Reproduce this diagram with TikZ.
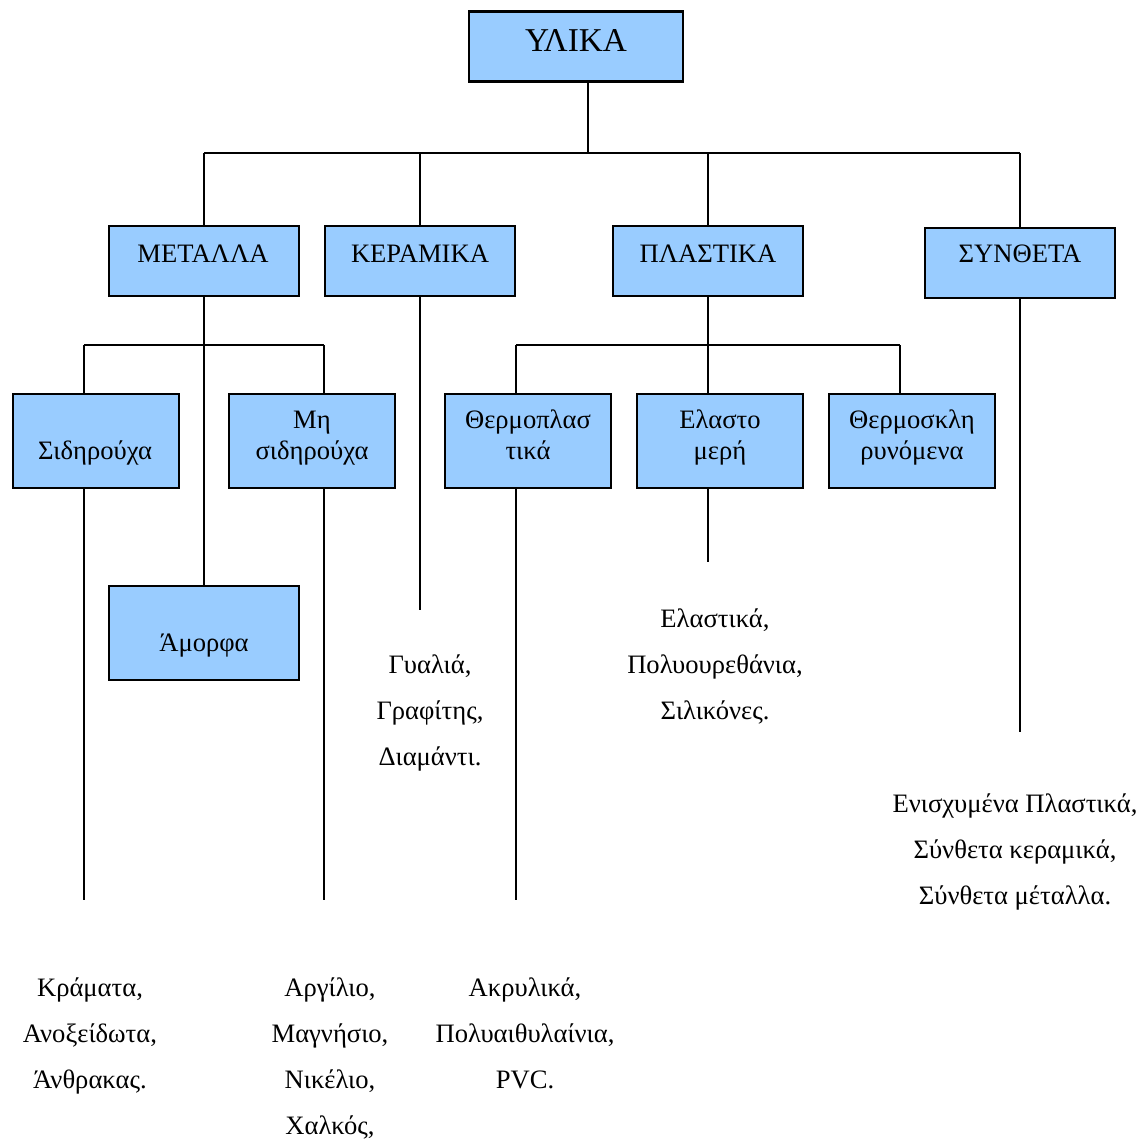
\documentclass[tikz,border=0pt]{standalone}
\usepackage{fontspec}
\setmainfont{Liberation Serif}
\definecolor{boxblue}{HTML}{99CCFF}
\begin{document}
\begin{tikzpicture}[x=1pt,y=-1pt,
  box/.style={draw=black, line width=2.6pt, fill=boxblue, inner sep=0pt, minimum width=190pt, minimum height=70pt},
  subbox/.style={box, minimum width=166pt, minimum height=94pt},
  conn/.style={draw=black, line width=2pt},
  boxtext/.style={inner sep=0pt, anchor=base, align=center, font={\fontsize{26.6}{31}\selectfont}},
  listtext/.style={inner sep=0pt, anchor=base, align=center, font={\fontsize{26.6}{46}\selectfont}}]
\useasboundingbox (0,0) rectangle (1141,1140);
\fill[white] (0,0) rectangle (1141,1140);

% boxes
\node[box, minimum width=214pt] (ylika) at (576,46.5) {};
\node[box] (metalla) at (204,261) {};
\node[box] (keramika) at (420,261) {};
\node[box] (plastika) at (708,261) {};
\node[box] (syntheta) at (1020,263) {};
\node[subbox] (sidir) at (96,441) {};
\node[subbox] (misidir) at (312,441) {};
\node[subbox] (thermopl) at (528,441) {};
\node[subbox] (elasto) at (720,441) {};
\node[subbox] (thermosk) at (912,441) {};
\node[box, minimum height=94pt] (amorfa) at (204,633) {};

% box texts (base = baseline of the last line)
\node[boxtext, font={\fontsize{33.3}{36}\selectfont}] (tylika) at (576,52) {ΥΛΙΚΑ};
\node[boxtext] (tmetalla) at (203,262) {ΜΕΤΑΛΛΑ};
\node[boxtext] (tkeramika) at (420,262) {ΚΕΡΑΜΙΚΑ};
\node[boxtext] (tplastika) at (708,262) {ΠΛΑΣΤΙΚΑ};
\node[boxtext] (tsyntheta) at (1020,262) {ΣΥΝΘΕΤΑ};
\node[boxtext] (tsidir) at (95,459) {Σιδηρούχα};
\node[boxtext] (tmisidir) at (312,459) {Μη\\σιδηρούχα};
\node[boxtext] (tthermopl) at (528,459) {Θερμοπλασ\\τικά};
\node[boxtext] (telasto) at (720,459) {Ελαστο\\μερή};
\node[boxtext] (tthermosk) at (912,459) {Θερμοσκλη\\ρυνόμενα};
\node[boxtext] (tamorfa) at (204,651) {Άμορφα};

% bus coordinates
\coordinate (b0) at (588,153);
\coordinate (b1) at (204,153);
\coordinate (b2) at (420,153);
\coordinate (b3) at (708,153);
\coordinate (b4) at (1020,153);
\coordinate (m1) at (84,345);
\coordinate (m2) at (324,345);
\coordinate (p1) at (516,345);
\coordinate (p2) at (900,345);
\coordinate (e1) at (84,900);
\coordinate (e2) at (324,900);
\coordinate (e3) at (516,900);
\coordinate (ek) at (420,610);
\coordinate (ee) at (708,562);
\coordinate (es) at (1020,732);

% connectors
\draw[conn] (ylika.south -| b0) -- (b0);
\draw[conn] (b1) -- (b4);
\draw[conn] (b1) -- (metalla.north);
\draw[conn] (b2) -- (keramika.north);
\draw[conn] (b3) -- (plastika.north);
\draw[conn] (b4) -- (syntheta.north);
\draw[conn] (metalla.south) -- (amorfa.north);
\draw[conn] (m1) -- (m2);
\draw[conn] (m1) -- (sidir.north -| m1);
\draw[conn] (m2) -- (misidir.north -| m2);
\draw[conn] (keramika.south) -- (ek);
\draw[conn] (plastika.south) -- (elasto.north -| plastika.south);
\draw[conn] (p1) -- (p2);
\draw[conn] (p1) -- (thermopl.north -| p1);
\draw[conn] (p2) -- (thermosk.north -| p2);
\draw[conn] (sidir.south -| e1) -- (e1);
\draw[conn] (misidir.south -| e2) -- (e2);
\draw[conn] (thermopl.south -| e3) -- (e3);
\draw[conn] (elasto.south -| ee) -- (ee);
\draw[conn] (syntheta.south) -- (es);

% lists (base = baseline of the last line)
\node[listtext] (lkeramika) at (430,765) {Γυαλιά,\\Γραφίτης,\\Διαμάντι.};
\node[listtext] (lelasto) at (715,719) {Ελαστικά,\\Πολυουρεθάνια,\\Σιλικόνες.};
\node[listtext] (lsyntheta) at (1015,904) {Ενισχυμένα Πλαστικά,\\Σύνθετα κεραμικά,\\Σύνθετα μέταλλα.};
\node[listtext] (lsidir) at (90,1088) {Κράματα,\\Ανοξείδωτα,\\Άνθρακας.};
\node[listtext] (lmisidir) at (330,1134) {Αργίλιο,\\Μαγνήσιο,\\Νικέλιο,\\Χαλκός,};
\node[listtext] (lthermopl) at (525,1088) {Ακρυλικά,\\Πολυαιθυλαίνια,\\PVC.};
\end{tikzpicture}
\end{document}
